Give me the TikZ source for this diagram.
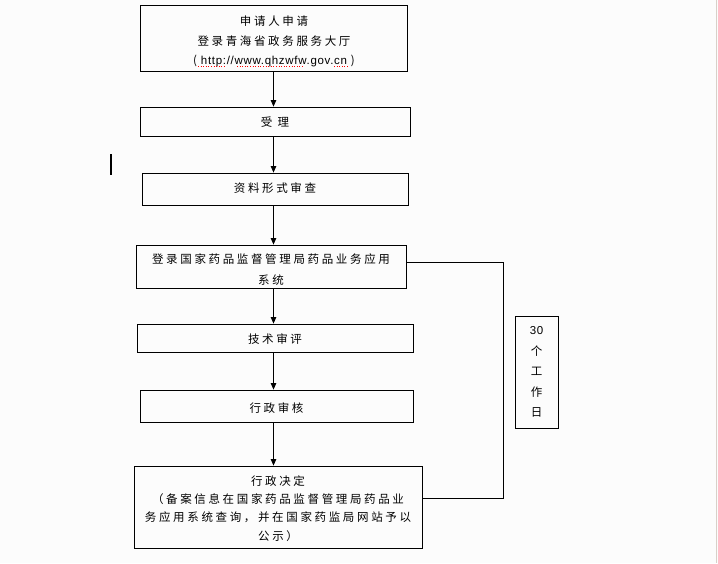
\documentclass[tikz,border=0pt]{standalone}
\usepackage{fontspec}
\setmainfont{Noto Sans CJK SC}[LetterSpace=23]
\newfontfamily\lat{Liberation Sans}[LetterSpace=6]
\usetikzlibrary{arrows.meta}
\definecolor{bg}{RGB}{252,252,252}
\definecolor{edge}{RGB}{216,208,200}
\tikzset{
  stepbox/.style={draw=black, line width=0.8pt, inner sep=0pt},
  steptext/.style={inner sep=0pt, align=center, font=\fontsize{11.5}{19}\selectfont},
  arr/.style={line width=0.8pt, -{Triangle[length=6.5pt,width=5.5pt]}},
  conn/.style={line width=0.8pt},
}
\begin{document}
\begin{tikzpicture}[x=1pt,y=-1pt]
\fill[bg] (0,0) rectangle (718,563);
\useasboundingbox (0,0) rectangle (718,563);
\draw[edge, line width=1.5pt] (716.5,0) -- (716.5,563);
\fill[black] (109.5,154) rectangle (111.5,175);

\node[stepbox, minimum width=267pt, minimum height=66pt] (b1) at (273.5,38) {};
\node[stepbox, minimum width=270pt, minimum height=29pt] (b2) at (275,121.5) {};
\node[stepbox, minimum width=266pt, minimum height=32pt] (b3) at (275,189) {};
\node[stepbox, minimum width=270pt, minimum height=43pt] (b4) at (271,266.5) {};
\node[stepbox, minimum width=276pt, minimum height=28pt] (b5) at (275,338) {};
\node[stepbox, minimum width=273pt, minimum height=32pt] (b6) at (276.5,406) {};
\node[stepbox, minimum width=288pt, minimum height=82pt] (b7) at (278,507) {};
\node[stepbox, minimum width=43pt, minimum height=112pt] (side) at (536.5,372) {};

\node[steptext, font=\fontsize{11.5}{19.5}\selectfont] (t1) at (274,41.5)
  {申请人申请\\登录青海省政务服务大厅\\({\lat\ http://www.qhzwfw.gov.cn\ })};
\node[steptext] (t2) at (275,122.5) {受\ 理};
\node[steptext] (t3) at (275,188) {资料形式审查};
\node[steptext, font=\fontsize{11.5}{21}\selectfont] (t4) at (271,269.5)
  {登录国家药品监督管理局药品业务应用\\系统};
\node[steptext] (t5) at (275,339) {技术审评};
\node[steptext] (t6) at (276.5,408) {行政审核};
\node[steptext, font=\fontsize{11.5}{18.3}\selectfont] (t7) at (278,508.5)
  {行政决定\\（备案信息在国家药品监督管理局药品业\\务应用系统查询，并在国家药监局网站予以\\公示）};
\node[steptext, font=\fontsize{11.5}{20.5}\selectfont] (t8) at (536.5,372)
  {{\lat 30}\\个\\工\\作\\日};

\draw[red, dotted, line width=0.6pt] (198,66.5) -- (225,66.5);
\draw[red, dotted, line width=0.6pt] (237,66.5) -- (303,66.5);
\draw[red, dotted, line width=0.6pt] (334,66.5) -- (348,66.5);

\draw[arr] (b1.south) -- (b1.south |- b2.north);
\draw[arr] (b2.south -| b1.south) -- (b1.south |- b3.north);
\draw[arr] (b3.south -| b1.south) -- (b1.south |- b4.north);
\draw[arr] (b4.south -| b1.south) -- (b1.south |- b5.north);
\draw[arr] (b5.south -| b1.south) -- (b1.south |- b6.north);
\draw[arr] (b6.south -| b1.south) -- (b1.south |- b7.north);

\coordinate (c1) at (503,262);
\coordinate (c2) at (503,498);
\draw[conn] (b4.east |- c1) -- (c1) -- (c2) -- (c2 -| b7.east);
\end{tikzpicture}
\end{document}
